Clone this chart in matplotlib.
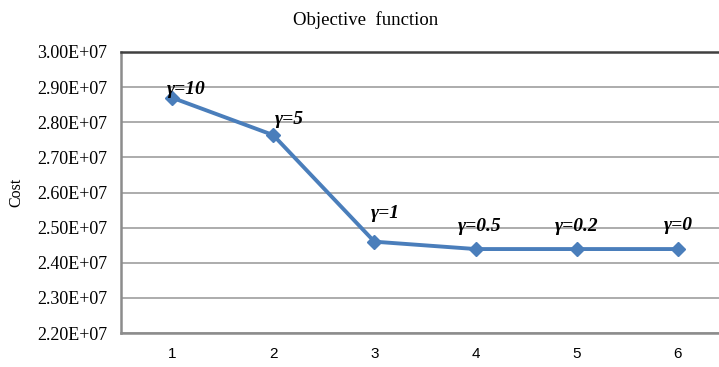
import matplotlib
matplotlib.use("Agg")
import matplotlib.pyplot as plt
from matplotlib.ticker import FuncFormatter

# Data
x_vals = [1, 2, 3, 4, 5, 6]
cost = [2.870e7, 2.7635e7, 2.460e7, 2.439e7, 2.439e7, 2.439e7]
labels = ["γ=10", "γ=5", "γ=1", "γ=0.5", "γ=0.2", "γ=0"]
y_ticks = [2.2e7, 2.3e7, 2.4e7, 2.5e7, 2.6e7, 2.7e7, 2.8e7, 2.9e7, 3.0e7]

# label offsets in points (dx, dy)
label_offsets = [(10, 6), (12, 11), (8, 20), (3, 16), (0, 16), (0, 17)]

serif = "Liberation Serif"
fig = plt.figure(figsize=(7.19, 3.67), dpi=100)
ax = fig.add_axes([121.4 / 719, 1 - 333 / 367, (728.6 - 121.4) / 719, (333 - 52) / 367])

ax.plot(x_vals, cost, color="#4a7ebb", lw=2.8, marker="D", markersize=7,
        markerfacecolor="#4a7ebb", markeredgecolor="#4a7ebb", zorder=3, clip_on=False)

for xv, yv, lab, (dx, dy) in zip(x_vals, cost, labels, label_offsets):
    ax.annotate(lab, (xv, yv), xytext=(dx, dy), textcoords="offset points",
                ha="center", va="center", fontsize=14, fontweight="bold",
                fontstyle="italic", family=serif, color="black", zorder=4)

ax.set_xlim(0.5, 6.5)
ax.set_ylim(2.2e7, 3.0e7)
ax.set_xticks(x_vals)
ax.set_yticks(y_ticks)
ax.yaxis.set_major_formatter(FuncFormatter(lambda v, p: f"{v:.2E}"))

ax.grid(axis="y", color="#a6a6a6", lw=1.3, zorder=0)
ax.set_axisbelow(True)
ax.tick_params(axis="both", length=0)
ax.tick_params(axis="y", pad=10)
ax.tick_params(axis="x", pad=10)
for t in ax.get_yticklabels():
    t.set_family(serif)
    t.set_fontsize(13)
for t in ax.get_xticklabels():
    t.set_family("Liberation Sans")
    t.set_fontsize(11)

ax.spines["top"].set_color("#404040")
ax.spines["top"].set_linewidth(1.8)
ax.spines["right"].set_visible(False)
for s in ("left", "bottom"):
    ax.spines[s].set_color("#8c8c8c")
    ax.spines[s].set_linewidth(1.8)

fig.text(366 / 719, 1 - 20 / 367, "Objective  function", ha="center", va="center",
         family=serif, fontsize=13.5)
fig.text(16 / 719, 1 - 192 / 367, "Cost", ha="center", va="center", rotation=90,
         family=serif, fontsize=11.5)

fig.savefig("out.png", dpi=100)
